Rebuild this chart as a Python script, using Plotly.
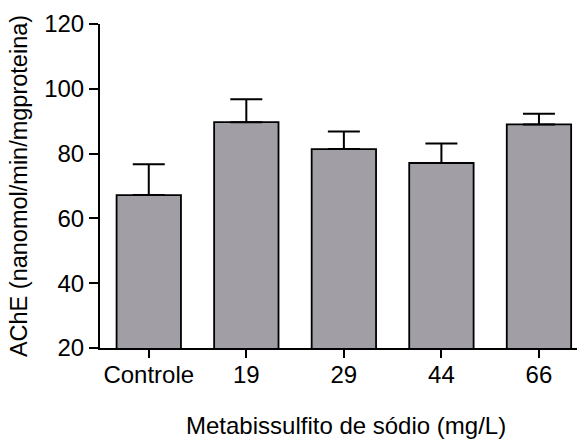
import plotly.graph_objects as go

# AChE activity by sodium metabisulfite concentration (mean + SEM)
categories = ["Controle", "19", "29", "44", "66"]
ache_mean = [67.2, 89.7, 81.4, 77.1, 89.0]
ache_sem = [9.5, 7.1, 5.4, 6.0, 3.3]
zeros = [0, 0, 0, 0, 0]
y_ticks = [20, 40, 60, 80, 100, 120]

FONT = "Liberation Sans, Arial, sans-serif"

fig = go.Figure(
    go.Bar(
        x=list(range(len(categories))),
        y=ache_mean,
        width=0.66,
        marker=dict(color="#A19FA5", line=dict(color="black", width=1.8)),
        error_y=dict(
            type="data",
            symmetric=False,
            array=ache_sem,
            arrayminus=zeros,
            color="black",
            thickness=2,
            width=16,
        ),
    )
)

fig.update_layout(
    width=577,
    height=443,
    margin=dict(l=100, r=0, t=24, b=95),
    paper_bgcolor="white",
    plot_bgcolor="white",
    showlegend=False,
    font=dict(family=FONT, size=24, color="black"),
    xaxis=dict(
        tickmode="array",
        tickvals=list(range(len(categories))),
        ticktext=categories,
        range=[-0.5, 4.39],
        showline=True,
        linecolor="black",
        linewidth=2,
        ticks="outside",
        ticklen=8,
        tickwidth=2,
        tickcolor="black",
        ticklabelstandoff=-4,
        showgrid=False,
        zeroline=False,
        tickfont=dict(family=FONT, size=24),
    ),
    yaxis=dict(
        range=[20, 120],
        tickmode="array",
        tickvals=y_ticks,
        showline=True,
        linecolor="black",
        linewidth=2,
        ticks="outside",
        ticklen=9,
        tickwidth=2,
        tickcolor="black",
        showgrid=False,
        zeroline=False,
        tickfont=dict(family=FONT, size=24),
        title=dict(text="AChE (nanomol/min/mgproteina)", font=dict(family=FONT, size=23.5), standoff=10),
    ),
    annotations=[
        dict(
            text="Metabissulfito de sódio (mg/L)",
            xref="paper",
            yref="paper",
            x=(346 - 100) / 477,
            y=-0.24,
            xanchor="center",
            yanchor="middle",
            showarrow=False,
            font=dict(family=FONT, size=24, color="black"),
        )
    ],
)

fig.write_html("out.html")
